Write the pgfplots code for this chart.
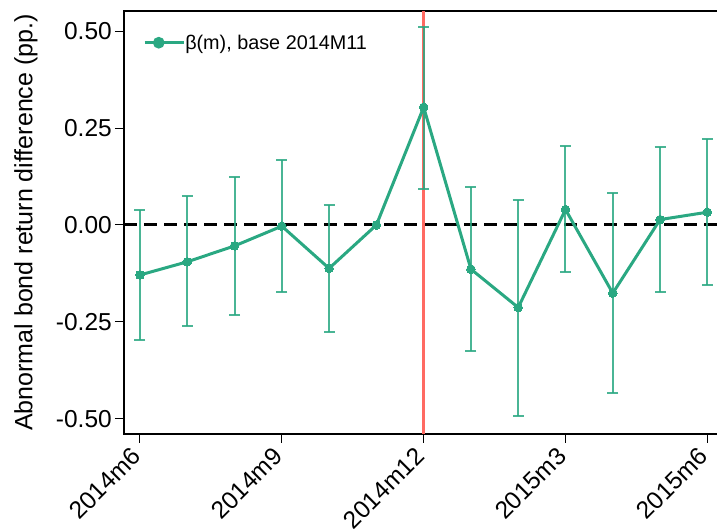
\documentclass[border=0pt]{standalone}
\usepackage{pgfplots}
\pgfplotsset{compat=1.18}
\usepackage{pgfplotstable}
\usepackage{fontspec}
\setmainfont{Liberation Sans}

\definecolor{betagreen}{RGB}{42,168,130}
\definecolor{eventred}{RGB}{255,106,98}

% month index, estimate, upper and lower half-widths of the confidence band
\pgfplotstableread{
x  y       ep     em
0  -0.129  0.168  0.168
1  -0.095  0.170  0.165
2  -0.054  0.177  0.178
3  -0.003  0.172  0.171
4  -0.112  0.164  0.163
6   0.304  0.208  0.210
7  -0.114  0.212  0.211
8  -0.213  0.278  0.280
9   0.040  0.163  0.162
10 -0.176  0.259  0.258
11  0.014  0.187  0.187
12  0.033  0.188  0.187
}\errtab

\pgfplotstableread{
x  y
0  -0.129
1  -0.095
2  -0.054
3  -0.003
4  -0.112
5   0.000
6   0.304
7  -0.114
8  -0.213
9   0.040
10 -0.176
11  0.014
12  0.033
}\coeftab

\begin{document}
\begin{tikzpicture}
\useasboundingbox (-124pt,-95pt) rectangle (593pt,434pt);
\begin{axis}[
  at={(0pt,0pt)}, anchor=south west,
  scale only axis,
  width=596pt, height=423pt,
  xmin=-0.338, xmax=12.268,
  ymin=-0.5395, ymax=0.5524,
  axis line style={line width=2pt, black},
  tick align=outside,
  major tick length=9pt,
  tick style={line width=1pt, black},
  xtick pos=bottom, ytick pos=left,
  xtick={0,3,6,9,12},
  xticklabels={2014m6,2014m9,2014m12,2015m3,2015m6},
  ytick={-0.5,-0.25,0,0.25,0.5},
  yticklabels={-0.50,-0.25,0.00,0.25,0.50},
  tick label style={font=\fontsize{24.5}{29}\selectfont},
  xticklabel style={rotate=45, anchor=north east, inner sep=0pt, xshift=-9pt, yshift=5pt},
  yticklabel style={inner sep=3pt},
  ylabel={Abnormal bond return difference (pp.)},
  every axis y label/.style={at={(rel axis cs:0,0.5)}, xshift=-110pt, rotate=90, anchor=north,
    inner sep=0pt, font=\fontsize{25}{29}\selectfont},
  legend style={draw=none, fill=none, at={(rel axis cs:0.032,0.925)}, anchor=west,
    font=\fontsize{19.8}{23}\selectfont, inner sep=0pt,
    nodes={inner sep=0pt, anchor=west}},
  legend cell align=left,
  legend image code/.code={
    \draw[betagreen, line width=3pt] (0pt,0pt) -- (28pt,0pt);
    \fill[betagreen] (14pt,0pt) circle (4.3pt);
    \path (0pt,0pt) -- (39pt,0pt);
  },
  clip=false,
]
% zero reference line
\addplot[black, line width=3pt, dash pattern=on 13pt off 7pt, forget plot]
  coordinates {(-0.338,0) (12.268,0)};
% event month
\addplot[eventred, line width=3pt, forget plot]
  coordinates {(6,-0.5395) (6,0.5524)};
% confidence intervals
\addplot[draw=none, forget plot,
  error bars/.cd, y dir=both, y explicit,
  error mark=-,
  error mark options={rotate=90, draw=betagreen, draw opacity=0.85, line width=2pt, mark size=5.5pt, solid},
  error bar style={draw=betagreen, draw opacity=0.85, line width=2pt, solid}]
  table[x=x, y=y, y error plus=ep, y error minus=em] {\errtab};
% point estimates
\addplot[betagreen, line width=3pt, mark=*, mark size=4.3pt, mark options={solid, fill=betagreen, draw=betagreen, line width=0pt}]
  table[x=x, y=y] {\coeftab};
\addlegendentry{β(m), base 2014M11}
\end{axis}
\end{tikzpicture}
\end{document}
